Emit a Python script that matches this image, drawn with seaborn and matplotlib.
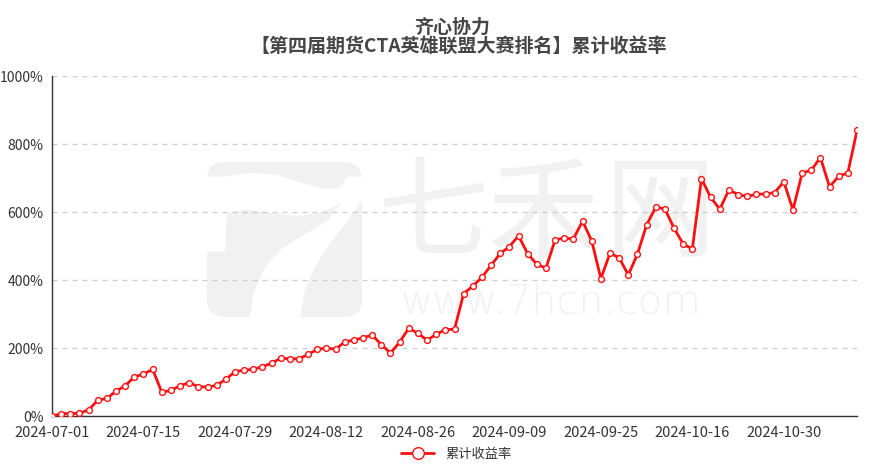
import matplotlib
matplotlib.use('Agg')
import matplotlib.pyplot as plt
import matplotlib.transforms as mtransforms
from matplotlib.patches import FancyBboxPatch, Polygon
import seaborn as sns
import pandas as pd

# trading days (China futures calendar, Mid-Autumn and National Day closed)
holidays = ['2024-09-16', '2024-09-17', '2024-10-01', '2024-10-02', '2024-10-03',
            '2024-10-04', '2024-10-07']
dates = pd.bdate_range('2024-07-01', '2024-11-11', freq='C', holidays=holidays).strftime('%Y-%m-%d').tolist()

# cumulative return, %
returns = [0, 8, 8, 9, 19, 47, 53, 74, 90, 116,
           124, 138, 71, 76, 90, 99, 87, 86, 91, 109,
           131, 136, 138, 146, 156, 171, 169, 169, 182, 197,
           201, 197, 219, 224, 231, 239, 211, 186, 218, 259,
           244, 224, 241, 255, 256, 361, 383, 409, 444, 479,
           499, 531, 478, 447, 436, 519, 524, 522, 574, 516,
           405, 480, 466, 416, 477, 563, 615, 610, 553, 507,
           492, 699, 644, 609, 666, 652, 647, 653, 654, 658,
           690, 607, 715, 724, 761, 675, 706, 716, 841]

title_lines = ['齐心协力', '【第四届期货CTA英雄联盟大赛排名】累计收益率']
series_name = '累计收益率'
y_ticks = [0, 200, 400, 600, 800, 1000]

df = pd.DataFrame({'idx': range(len(dates)), 'date': dates, series_name: returns})

sns.set_style('white')
plt.rcParams['font.family'] = ['Noto Sans CJK SC', 'DejaVu Sans']

W, H = 881, 473
fig = plt.figure(figsize=(W / 100, H / 100), dpi=100)
ax = fig.add_axes([52 / W, 1 - 416.3 / H, 805 / W, 340 / H])
ax.set_facecolor('none')
ax.set_zorder(3)

# --- watermark (logo + site name), pixel coords, y measured from top ---
wm = '#f1f1f1'
px = mtransforms.Affine2D().scale(1 / 100) + fig.dpi_scale_trans
logo = FancyBboxPatch((207, H - 317), 155, 155, boxstyle='round,pad=0,rounding_size=18',
                      transform=px, facecolor=wm, edgecolor='none', zorder=0)
fig.patches.append(logo)
cut = [(50, 80), (105, 80), (180, 68), (260, 75), (340, 100), (410, 118), (450, 112), (470, 80),
       (517, 80), (517, 150), (470, 215), (420, 280), (375, 350), (345, 420), (330, 505),
       (180, 505), (190, 430), (220, 360), (270, 300), (340, 255), (410, 215), (455, 160),
       (400, 185), (330, 200), (250, 190), (170, 178), (110, 190), (105, 305), (45, 305), (45, 80)]
cut_px = [(190 + a / 3, H - (150 + b / 3)) for a, b in cut]
fig.patches.append(Polygon(cut_px, closed=True, transform=px, facecolor='white',
                           edgecolor='none', zorder=0.5))
for ch, cx in zip('七禾网', [433, 543, 660]):
    fig.text(cx / W, 1 - 216 / H, ch, fontsize=80, fontweight='light', color=wm,
             ha='center', va='center', zorder=1)
fig.text(551 / W, 1 - 313 / H, 'www.7hcn.com', fontsize=28.5, fontweight='light', color=wm,
         ha='center', va='baseline', family='DejaVu Sans', zorder=1)

sns.lineplot(data=df, x='idx', y=series_name, ax=ax, color='#ff1010', linewidth=2,
             marker='o', markersize=4.2, markerfacecolor='white', markeredgecolor='#ff1010',
             markeredgewidth=1, label=series_name, zorder=5)

ax.set_xlim(0, len(dates) - 1)
ax.set_ylim(0, 1000)
ax.set_yticks(y_ticks)
ax.set_yticklabels([f'{v}%' for v in y_ticks])
xt = list(range(0, len(dates), 10))
ax.set_xticks(xt)
ax.set_xticklabels([dates[i] for i in xt])
ax.set_xlabel('')
ax.set_ylabel('')

ax.grid(axis='y', color='#cccccc', linestyle=(0, (4, 4)), linewidth=0.9)
ax.grid(axis='x', visible=False)
for s in ['top', 'right']:
    ax.spines[s].set_visible(False)
for s in ['left', 'bottom']:
    ax.spines[s].set_color('#333333')
    ax.spines[s].set_linewidth(1)
ax.tick_params(axis='x', length=5, width=1, color='#333333', labelsize=10.5, labelcolor='#333333', pad=2)
ax.tick_params(axis='y', length=0, labelsize=10, labelcolor='#333333', pad=6)

fig.text(0.514, 1 - 27 / H, title_lines[0], ha='center', va='center', fontsize=13.7,
         fontweight='bold', color='#464646')
fig.text(0.521, 1 - 46 / H, title_lines[1], ha='center', va='center', fontsize=13.7,
         fontweight='bold', color='#464646')

leg = ax.legend(loc='center', bbox_to_anchor=(0.518, 1 - 454 / H), bbox_transform=fig.transFigure,
                frameon=False, fontsize=9.5, handlelength=2.5, markerscale=2.0)
for t in leg.get_texts():
    t.set_color('#333333')

fig.savefig('out.png', dpi=100)
